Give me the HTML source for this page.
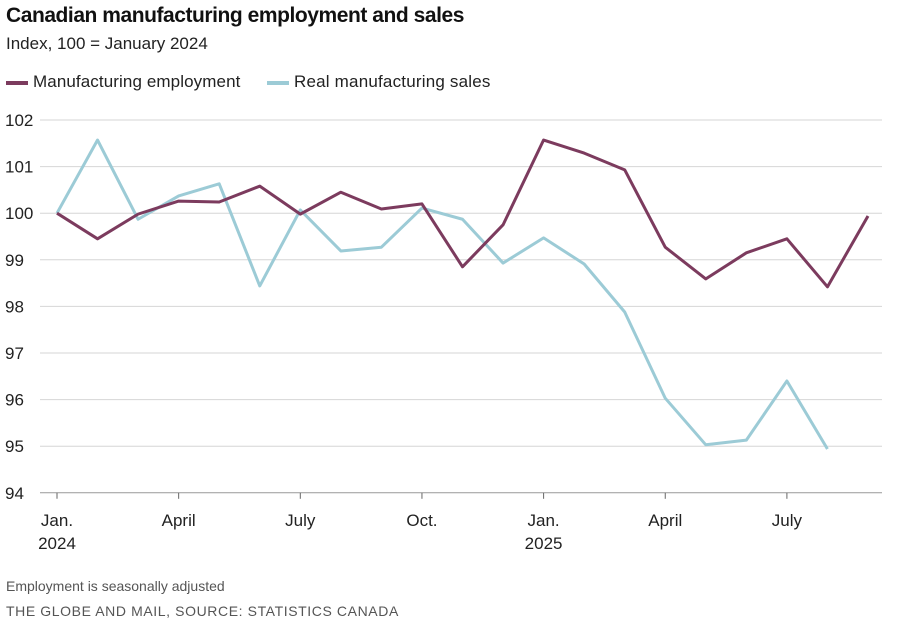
<!DOCTYPE html>
<html><head><meta charset="utf-8">
<style>
body{margin:0;background:#fff;font-family:"Liberation Sans",sans-serif;}
#wrap{position:relative;width:901px;height:634px;overflow:hidden;}
.t{position:absolute;white-space:nowrap;}
</style></head>
<body>
<div id="wrap">
<div class="t" style="left:6px;top:4px;font-size:21px;font-weight:bold;color:#111;letter-spacing:-0.45px">Canadian manufacturing employment and sales</div>
<div class="t" style="left:6px;top:34px;font-size:17px;color:#222">Index, 100 = January 2024</div>
<div class="t" style="left:6px;top:72px;font-size:17px;color:#222;letter-spacing:0.1px"><span style="display:inline-block;width:22px;height:4px;background:#7c3b5e;vertical-align:middle;margin-right:5px"></span>Manufacturing employment</div>
<div class="t" style="left:267px;top:72px;font-size:17px;color:#222;letter-spacing:0.2px"><span style="display:inline-block;width:22px;height:4px;background:#9ccbd6;vertical-align:middle;margin-right:5px"></span>Real manufacturing sales</div>
<svg id="chart" width="901" height="634" style="position:absolute;left:0;top:0"></svg>
<div class="t" style="left:6px;top:578px;font-size:14px;color:#555">Employment is seasonally adjusted</div>
<div class="t" style="left:6px;top:603px;font-size:14px;color:#555;letter-spacing:0.6px">THE GLOBE AND MAIL, SOURCE: STATISTICS CANADA</div>
</div>
<script>
const employment=[100,99.45,99.98,100.26,100.24,100.58,99.98,100.45,100.09,100.2,98.85,99.75,101.57,101.29,100.93,99.27,98.59,99.15,99.45,98.42,99.94];
const sales=[100,101.57,99.87,100.37,100.63,98.44,100.07,99.19,99.27,100.11,99.87,98.93,99.47,98.91,97.88,96.03,95.03,95.13,96.4,94.94];
const yTicks=[94,95,96,97,98,99,100,101,102];
const xTickIdx=[0,3,6,9,12,15,18];
const xTickLabels=[["Jan.","2024"],["April"],["July"],["Oct."],["Jan.","2025"],["April"],["July"]];
const svg=document.getElementById('chart');
const NS='http://www.w3.org/2000/svg';
const y=v=>120+(102-v)*46.6;
const x=i=>57+i*40.55;
function mk(t,a){const e=document.createElementNS(NS,t);for(const k in a)e.setAttribute(k,a[k]);svg.appendChild(e);return e;}
yTicks.forEach(v=>{
  const l=mk('line',{x1:40,x2:882,y1:y(v),y2:y(v),stroke:v===94?'#999':'#d6d6d6','stroke-width':1});
  
  
  const t=mk('text',{x:5,y:y(v)+6,'font-size':17,fill:'#222','font-family':'Liberation Sans, sans-serif'});
  t.textContent=v;
  
  
});
xTickIdx.forEach((i,k)=>{
  const tk=mk('line',{x1:x(i),x2:x(i),y1:y(94),y2:y(94)+6,stroke:'#666'});
  
  
  xTickLabels[k].forEach((s,j)=>{
    const t=mk('text',{x:x(i),y:526+j*23,'font-size':17,fill:'#222','text-anchor':'middle','font-family':'Liberation Sans, sans-serif'});
    t.textContent=s;
    
    
  });
});
function line(arr,color,name){
  const p=mk('polyline',{points:arr.map((v,i)=>x(i)+','+y(v)).join(' '),fill:'none',stroke:color,'stroke-width':3,'stroke-linejoin':'round'});
  
  
}
line(sales,'#9ccbd6','sales-line');
line(employment,'#7c3b5e','employment-line');
</script>
</body></html>
